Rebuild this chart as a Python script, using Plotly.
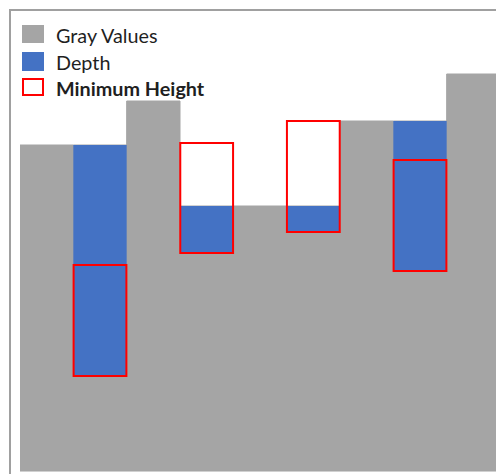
import plotly.graph_objects as go

# Data (units measured up from the baseline)
columns = list(range(9))
gray_values = [326, 326, 370, 265, 265, 265, 350, 350, 397]
depth_cols = [1, 3, 5, 7]
depth_top = [326, 265, 265, 350]
depth_bottom = [95, 218, 239, 200]
min_height = [111, 110, 111, 111]
legend_labels = ["Gray Values", "Depth", "<b>Minimum Height</b>"]

GRAY = "#A5A5A5"
BLUE = "#4472C4"
RED = "#FF0000"

fig = go.Figure()
fig.add_trace(go.Bar(
    x=columns, y=gray_values, width=1.0, name="Gray Values",
    marker=dict(color=GRAY, line=dict(color=GRAY, width=1)), showlegend=False,
))
fig.add_trace(go.Bar(
    x=depth_cols, y=[t - b for t, b in zip(depth_top, depth_bottom)],
    base=depth_bottom, width=1.0, name="Depth",
    marker=dict(color=BLUE, line=dict(width=0)), showlegend=False,
))
fig.add_trace(go.Bar(
    x=depth_cols, y=min_height, base=depth_bottom, width=0.99,
    name="Minimum Height",
    marker=dict(color="rgba(255,255,255,0)", line=dict(color=RED, width=2)),
    showlegend=False,
))

# plot area: x 20..496 px, y 12..471 px
def px(x):
    return (x - 20) / 476

def py(y):
    return (471 - y) / 459

shapes = [dict(type="rect", xref="paper", yref="paper",
               x0=px(10), x1=1.05, y0=-0.05, y1=py(10),
               line=dict(color="#A0A0A0", width=2), fillcolor="rgba(0,0,0,0)",
               layer="above")]
annotations = []
legend_fill = [GRAY, BLUE, "white"]
legend_line = [GRAY, BLUE, RED]
legend_y = [(26, 42), (53, 70), (79, 95)]
for lab, fc, lc, (y0, y1) in zip(legend_labels, legend_fill, legend_line, legend_y):
    shapes.append(dict(type="rect", xref="paper", yref="paper",
                       x0=px(23), x1=px(43), y0=py(y1), y1=py(y0),
                       line=dict(color=lc, width=2), fillcolor=fc, layer="above"))
    annotations.append(dict(xref="paper", yref="paper", x=px(54), y=py((y0 + y1) / 2 + 0.5),
                            text=lab, showarrow=False, xanchor="left", yanchor="middle",
                            font=dict(family="Lato, Calibri, sans-serif", size=19.8,
                                      color="#1F1F1F")))

fig.update_layout(
    width=496, height=474,
    margin=dict(l=20, r=0, t=12, b=3),
    barmode="overlay",
    paper_bgcolor="white", plot_bgcolor="white",
    font=dict(family="Lato, Calibri, sans-serif", size=16, color="#1F1F1F"),
    showlegend=False,
    xaxis=dict(range=[-0.5, 8.425], showticklabels=False, showgrid=False,
               zeroline=False, showline=True, linecolor="#D0D0D0", linewidth=1,
               ticks=""),
    yaxis=dict(range=[0, 459], showticklabels=False, showgrid=False,
               zeroline=False, showline=False, ticks=""),
    shapes=shapes,
    annotations=annotations,
)

fig.write_html("out.html", config={"displayModeBar": False},
               post_script="document.body.style.margin='0';")
